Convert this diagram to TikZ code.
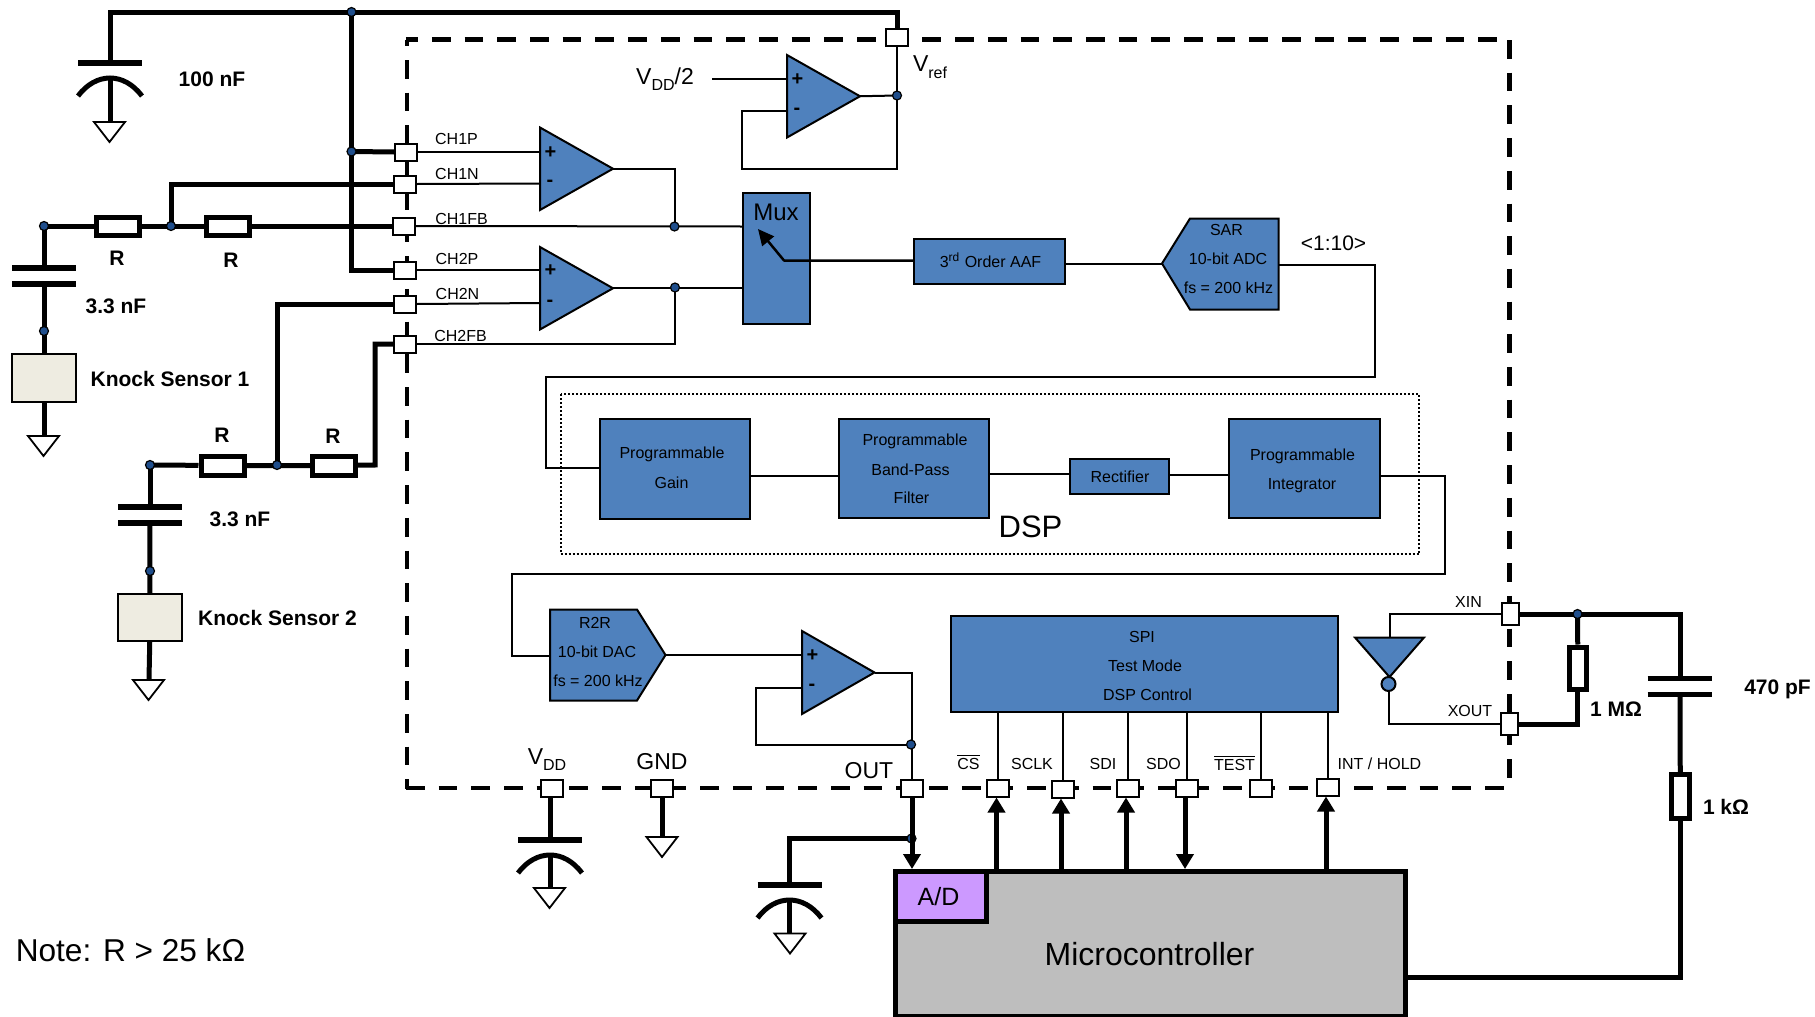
\documentclass[tikz,border=0pt]{standalone}
\usepackage{fontspec}
\setmainfont{Liberation Sans}
\usetikzlibrary{arrows.meta,backgrounds}
\definecolor{bluefill}{HTML}{4F81BD}
\definecolor{dotfill}{HTML}{1F4E8C}
\definecolor{sensorfill}{HTML}{EEECE1}
\definecolor{mcufill}{HTML}{BEBEBE}
\definecolor{adfill}{HTML}{CC99FF}
\tikzset{
  wire/.style={line width=1pt,line join=miter},
  fatwire/.style={line width=2.5pt,line join=miter},
  headwire/.style={line width=2.5pt,-{Triangle[length=7.5pt,width=8.5pt]}},
  plate/.style={line width=2.75pt},
  arcplate/.style={line width=2.5pt},
  gndtri/.style={line width=0.9pt,fill=white,line join=miter},
  bluebox/.style={draw,line width=1pt,fill=bluefill,inner sep=0pt},
  bluepoly/.style={draw,line width=1pt,fill=bluefill,line join=miter},
  resbox/.style={draw,line width=2.5pt,fill=white,inner sep=0pt},
  sensorbox/.style={draw,line width=1pt,fill=sensorfill,inner sep=0pt},
  mcubox/.style={draw,line width=2.5pt,fill=mcufill,inner sep=0pt},
  adbox/.style={draw,line width=2.5pt,fill=adfill,inner sep=0pt},
  pinbox/.style={draw,line width=1pt,fill=white,inner sep=0pt,minimum width=11pt,minimum height=8.5pt},
  pinvbox/.style={draw,line width=1pt,fill=white,inner sep=0pt,minimum width=8.5pt,minimum height=11pt},
  jdot/.style={circle,draw,line width=0.6pt,fill=dotfill,inner sep=0pt,minimum size=4.5pt},
  pkgline/.style={line width=2.25pt,dash pattern=on 9.35pt off 7pt},
  small/.style={inner sep=0pt,font=\fontsize{8}{9}\selectfont},
  mid/.style={inner sep=0pt,font=\fontsize{11.5}{13}\selectfont},
  bold/.style={inner sep=0pt,font=\fontsize{10.5}{12}\bfseries\selectfont},
  oasign/.style={inner sep=0pt,font=\fontsize{10}{11}\bfseries\selectfont},
}
\newcommand{\rectnode}[6]{%
  \pgfmathsetmacro{\rcx}{(#3+#5)/2}\pgfmathsetmacro{\rcy}{(#4+#6)/2}%
  \pgfmathsetmacro{\rw}{(#5-#3)*0.5}\pgfmathsetmacro{\rh}{(#6-#4)*0.5}%
  \node[#1,minimum width=\rw pt,minimum height=\rh pt] (#2) at (\rcx,\rcy) {};}
% opamp: name, left x, top y, bottom y, apex x, plus y, minus y
\newcommand{\opamp}[7]{%
  \pgfmathsetmacro{\oy}{(#3+#4)/2}%
  \draw[bluepoly] (#2,#3) -- (#5,\oy) -- (#2,#4) -- cycle;
  \coordinate (#1out) at (#5,\oy);
  \coordinate (#1p) at (#2,#6);
  \coordinate (#1m) at (#2,#7);
  \node[oasign] (#1plus) at (#2+10.5,#6+1) {+};
  \node[oasign] (#1minus) at (#2+10,#7) {-};}
% polarised capacitor: x, plate y
\newcommand{\polcap}[2]{%
  \draw[plate] (#1-32,#2) -- (#1+32,#2);
  \draw[arcplate] (#1-32,#2+33) .. controls (#1-14,#2+9) and (#1+14,#2+9) .. (#1+32,#2+33);}
\newcommand{\gndsym}[2]{%
  \draw[gndtri] (#1-15.5,#2) -- (#1+15.5,#2) -- (#1,#2+20) -- cycle;}
\newcommand{\sub}[1]{\raisebox{-0.28em}{\fontsize{8}{9}\selectfont #1}}
\begin{document}
\begin{tikzpicture}[x=0.5pt,y=-0.5pt]
\useasboundingbox (0,0) rectangle (1815,1017);

% ---------- pins
\node[pinbox] (pVref) at (897,37.5) {};
\node[pinbox] (pCHoneP) at (406,152) {};
\node[pinbox] (pCHoneN) at (405,184) {};
\node[pinbox] (pCHoneFB) at (404,226) {};
\node[pinbox] (pCHtwoP) at (405,270) {};
\node[pinbox] (pCHtwoN) at (405,304) {};
\node[pinbox] (pCHtwoFB) at (405,344) {};
\node[pinbox] (pVDD) at (552,788) {};
\node[pinbox] (pGND) at (662,788) {};
\node[pinbox] (pOUT) at (912,788) {};
\node[pinbox] (pCS) at (998,788) {};
\node[pinbox] (pSCLK) at (1063,789) {};
\node[pinbox] (pSDI) at (1127.5,788) {};
\node[pinbox] (pSDO) at (1186.5,788) {};
\node[pinbox] (pTEST) at (1260.5,788) {};
\node[pinbox] (pINT) at (1328,787) {};
\node[pinvbox] (pXIN) at (1510,614) {};
\node[pinvbox] (pXOUT) at (1509.5,724) {};

% ---------- blocks
\rectnode{bluebox}{mux}{743}{193}{810}{324}
\rectnode{bluebox}{aaf}{914}{239}{1065}{284}
\rectnode{bluebox}{gain}{600}{419}{750}{519}
\rectnode{bluebox}{bpf}{838.5}{419}{989}{518}
\rectnode{bluebox}{rect}{1070}{459}{1169}{493.5}
\rectnode{bluebox}{integ}{1229}{419}{1380}{518}
\rectnode{bluebox}{spi}{951}{616}{1337.5}{712}
\rectnode{sensorbox}{sensA}{12}{354}{76}{402}
\rectnode{sensorbox}{sensB}{117.5}{594}{182}{641}
\rectnode{resbox}{rA}{96}{217}{139.5}{235}
\rectnode{resbox}{rB}{206.5}{217}{249}{235}
\rectnode{resbox}{rC}{201}{456}{244}{475}
\rectnode{resbox}{rD}{312.5}{456}{355.5}{475}
\rectnode{resbox}{rE}{1569}{647}{1586.5}{689}
\rectnode{resbox}{rF}{1671}{774.5}{1689.5}{818}
\rectnode{mcubox}{mcu}{895}{871.5}{1405.5}{1016}
\rectnode{adbox}{ad}{895}{871.5}{986.5}{921}

% polygons
\draw[bluepoly] (1190,218.5) -- (1278.5,218.5) -- (1278.5,309.5) -- (1190,309.5) -- (1162,263.5) -- cycle;
\coordinate (sarin) at (1162,263.5);
\coordinate (sarout) at (1278.5,265);
\draw[bluepoly] (550,609.5) -- (637,609.5) -- (665.5,655) -- (637,700.5) -- (550,700.5) -- cycle;
\coordinate (dacin) at (550,656);
\coordinate (dacout) at (665.5,655);
\opamp{oaA}{540}{127.5}{210}{613}{152}{183.5}
\opamp{oaB}{540}{247}{329.5}{613}{270}{303}
\opamp{oaC}{787}{55}{137.5}{860}{79}{111}
\opamp{oaD}{802}{631}{714}{874.5}{655}{687.5}
\draw[bluepoly] (1355,637.5) -- (1424,637.5) -- (1389.5,677) -- cycle;
\node[circle,draw,line width=1pt,fill=bluefill,inner sep=0pt,minimum size=7pt] (invb) at (1388.5,684) {};
\coordinate (invtop) at (1390,637.5);

% junctions
\node[jdot] (jtop) at (351.5,12) {};
\node[jdot] (jbus) at (351.5,151.5) {};
\node[jdot] (jn) at (171,226) {};
\node[jdot] (nA) at (44,226) {};
\node[jdot] (nB) at (44,331) {};
\node[jdot] (jm) at (277,465) {};
\node[jdot] (nC) at (150,465) {};
\node[jdot] (nD) at (150,571) {};
\node[jdot] (jfbA) at (674.5,226.5) {};
\node[jdot] (jfbB) at (675,287.5) {};
\node[jdot] (jref) at (897,95.5) {};
\node[jdot] (jout) at (911,744.5) {};
\node[jdot] (jad) at (911.5,838.5) {};
\node[jdot] (jxin) at (1577.5,614) {};

% free-end coordinates
\coordinate (muxwiper) at (784,260.5);
\coordinate (muxtip) at (758,229);
\coordinate (capA) at (110,63);
\coordinate (capAb) at (110,78);
\coordinate (capB) at (44,268);
\coordinate (capBb) at (44,284);
\coordinate (capC) at (150,507);
\coordinate (capCb) at (150,523);
\coordinate (capV) at (550,840);
\coordinate (capVb) at (550,855);
\coordinate (capO) at (789.5,885);
\coordinate (capOb) at (789.5,900);
\coordinate (capX) at (1680,678.5);
\coordinate (capXb) at (1680,694.5);

% symbols
\polcap{110}{63}
\gndsym{109.5}{122}
\draw[plate] (12,268) -- (76,268); \draw[plate] (12,284) -- (76,284);
\gndsym{43.5}{436}
\draw[plate] (118,507) -- (182,507); \draw[plate] (118,523) -- (182,523);
\gndsym{148.5}{680}
\polcap{550}{840}
\gndsym{549.5}{888}
\gndsym{662}{837}
\polcap{789.5}{885}
\gndsym{790}{933.5}
\draw[plate] (1647.5,678.5) -- (1712,678.5); \draw[plate] (1647.5,694.5) -- (1712,694.5);

% ---------- wires, behind everything
\begin{scope}[on background layer]
  % dashed package outline
  \draw[pkgline,dash phase=3.35pt] (405.9,39.5) -- (1509.5,39.5);
  \draw[pkgline,dash phase=6.1pt] (407,39.5) -- (407,789);
  \draw[pkgline] (405.9,788) -- (1509.5,788);
  \draw[pkgline] (1509.5,40) -- (1509.5,788);
  \draw[line width=1pt,dash pattern=on 1pt off 1pt] (560.5,394) rectangle (1419,554);
  % thick wiring
  \draw[fatwire] (capA) |- (jtop.center) -| (pVref.north);
  \draw[fatwire] (jtop.center) |- (pCHtwoP.west);
  \draw[fatwire] (jbus.center) -- (pCHoneP.west);
  \draw[fatwire] (jn.center) |- (pCHoneN.west);
  \draw[fatwire] (nA.center) -- (rA) -- (rB) -- (pCHoneFB.west);
  \draw[fatwire] (nA.center) -- (capB);
  \draw[fatwire] (capBb) -- (sensA.north);
  \draw[fatwire] (sensA.south) -- (44,436);
  \draw[fatwire] (capAb) -- (110,122);
  \draw[fatwire] (jm.center) |- (pCHtwoN.west);
  \draw[fatwire] (nC.center) -- (rC) -- (rD) -- (375,465) |- (pCHtwoFB.west);
  \draw[fatwire] (nC.center) -- (capC);
  \draw[fatwire] (capCb) -- (sensB.north);
  \draw[fatwire] (sensB.south) -- (149,680);
  \draw[fatwire] (capV |- pVDD.south) -- (capV);
  \draw[fatwire] (capVb) -- (550,888);
  \draw[fatwire] (pGND.south) -- (662,837);
  \draw[fatwire] (jad.center) -| (capO);
  \draw[fatwire] (capOb) -- (789.5,933.5);
  \draw[fatwire] (pXIN.east) -- (1680,614) -- (capX);
  \draw[fatwire] (capXb) -- (rF.north);
  \draw[fatwire] (rF.south) |- (mcu.east |- 0,977.5);
  \draw[fatwire] (jxin.center) -- (rE.north);
  \draw[fatwire] (rE.south) |- (pXOUT.east);
  % thin wiring
  \draw[wire] (pCHoneP.east) -- (oaAp);
  \draw[wire] (pCHoneN.east) -- (oaAm);
  \draw[wire] (pCHtwoP.east) -- (oaBp);
  \draw[wire] (pCHtwoN.east) -- (oaBm);
  \draw[wire] (pCHoneFB.east) -- (mux.west |- jfbA);
  \draw[wire] (pCHtwoFB.east) -| (jfbB.center);
  \draw[wire] (oaAout) -| (jfbA.center);
  \draw[wire] (oaBout) -- (mux.west |- oaBout);
  \draw[wire] (712,79) -- (oaCp);
  \draw[wire] (oaCm) -- (741.5,111) -- (741.5,168.5) -| (pVref.south);
  \draw[wire] (oaCout) -- (jref.center);
  \draw[wire] (aaf.east |- sarin) -- (sarin);
  \draw[wire] (sarout) -- (1375,265) -- (1375,377) -- (546,377) -- (546,467.5) -- (gain.west |- 0,467.5);
  \draw[wire] (gain.east |- 0,476) -- (bpf.west |- 0,476);
  \draw[wire] (bpf.east |- 0,474) -- (rect.west |- 0,474);
  \draw[wire] (rect.east |- 0,474.5) -- (integ.west |- 0,474.5);
  \draw[wire] (integ.east |- 0,475.5) -- (1445,475.5) -- (1445,573.5) -- (512,573.5) -- (512,656) -- (dacin);
  \draw[wire] (dacout) -- (oaDp);
  \draw[wire] (oaDout) -| (pOUT.north);
  \draw[wire] (oaDm) -- (755.5,687.5) |- (jout.center);
  \draw[wire] (spi.south -| pCS) -- (pCS.north);
  \draw[wire] (spi.south -| pSCLK) -- (pSCLK.north);
  \draw[wire] (spi.south -| pSDI) -- (pSDI.north);
  \draw[wire] (spi.south -| pSDO) -- (pSDO.north);
  \draw[wire] (spi.south -| pTEST) -- (pTEST.north);
  \draw[wire] (spi.south -| pINT) -- (pINT.north);
  \draw[wire] (pXIN.west) -| (invtop);
  \draw[wire] (invb.south) |- (pXOUT.west);
\end{scope}

% mux wiper arrow and bus arrows
\draw[wire,line width=1.25pt,line join=round,-{Triangle[length=8pt,width=7.5pt]}] (aaf.west |- muxwiper) -- (muxwiper) -- (muxtip);
\draw[headwire] (pOUT.south) -- (pOUT.south |- mcu.north);
\draw[headwire] ([xshift=-0.75pt]pCS.south |- mcu.north) -- ([xshift=-0.75pt]pCS.south);
\draw[headwire] ([xshift=-1pt]pSCLK.south |- mcu.north) -- ([xshift=-1pt]pSCLK.south);
\draw[headwire] ([xshift=-0.75pt]pSDI.south |- mcu.north) -- ([xshift=-0.75pt]pSDI.south);
\draw[headwire] ([xshift=-0.75pt]pSDO.south) -- ([xshift=-0.75pt]pSDO.south |- mcu.north);
\draw[headwire] ([xshift=-1pt]pINT.south |- mcu.north) -- ([xshift=-1pt]pINT.south);

% ---------- texts
\node[bold] (tCapA) at (212,79.5) {100 nF};
\node[bold] (tRa) at (117,258) {R};
\node[bold] (tRb) at (231,260) {R};
\node[bold] (tCapB) at (116,306) {3.3 nF};
\node[bold] (tKsA) at (170,378.5) {Knock Sensor 1};
\node[bold] (tRc) at (222,435) {R};
\node[bold] (tRd) at (333,436) {R};
\node[bold] (tCapC) at (240,519) {3.3 nF};
\node[bold] (tKsB) at (277.5,618) {Knock Sensor 2};
\node[bold] (tRe) at (1616,709) {1 MΩ};
\node[bold] (tCapX) at (1777.5,689.5) {470 pF};
\node[bold] (tRf) at (1726,807) {1 kΩ};
\node[inner sep=0pt,font=\fontsize{15.8}{18}\selectfont] (tNote) at (130.5,950.5) {Note: R > 25 kΩ};

\node[small] (tCHoneP) at (456.5,138.5) {CH1P};
\node[small] (tCHoneN) at (457,173.5) {CH1N};
\node[small] (tCHoneFB) at (461.5,218.5) {CH1FB};
\node[small] (tCHtwoP) at (457,258.5) {CH2P};
\node[small] (tCHtwoN) at (457.5,293.5) {CH2N};
\node[small] (tCHtwoFB) at (460.5,335.5) {CH2FB};

\node[mid] (tVddh) at (665,79) {V\sub{DD}/2};
\node[mid] (tVref) at (930,67) {V\sub{ref}};
\node[inner sep=0pt,font=\fontsize{12}{14}\selectfont] (tMux) at (776,212) {Mux};
\node[small] (tAAF) at (990.5,260.5) {3\textsuperscript{rd} Order AAF};
\node[small] (tSARa) at (1226.5,229.5) {SAR};
\node[small] (tSARb) at (1228,258.5) {10-bit ADC};
\node[small] (tSARc) at (1228.5,287.5) {fs = 200 kHz};
\node[inner sep=0pt,font=\fontsize{10.5}{12}\selectfont] (tDec) at (1333.5,243) {<1:10>};

\node[small] (tGainA) at (672,454) {Programmable};
\node[small] (tGainB) at (671.5,483) {Gain};
\node[small] (tBpfA) at (915,441) {Programmable};
\node[small] (tBpfB) at (910.5,469.5) {Band-Pass};
\node[small] (tBpfC) at (911.5,498) {Filter};
\node[small] (tRect) at (1120,477) {Rectifier};
\node[small] (tIntA) at (1302.5,456) {Programmable};
\node[small] (tIntB) at (1302,485.5) {Integrator};
\node[inner sep=0pt,font=\fontsize{15.5}{18}\selectfont] (tDSP) at (1030.5,527) {DSP};

\node[small] (tDACa) at (595,622.5) {R2R};
\node[small] (tDACb) at (597,652) {10-bit DAC};
\node[small] (tDACc) at (598,681) {fs = 200 kHz};
\node[small] (tSPIa) at (1142,637) {SPI};
\node[small] (tSPIb) at (1145,666) {Test Mode};
\node[small] (tSPIc) at (1147.5,694.5) {DSP Control};

\node[mid] (tVDD) at (547,759.5) {V\sub{DD}};
\node[mid] (tGND) at (662,762) {GND};
\node[mid] (tOUT) at (869,771) {OUT};
\node[small] (tCS) at (968.5,762) {$\overline{\mbox{CS}}$};
\node[small] (tSCLK) at (1032,763.5) {SCLK};
\node[small] (tSDI) at (1103,763.5) {SDI};
\node[small] (tSDO) at (1163.5,763.5) {SDO};
\node[small] (tTEST) at (1234.5,763) {$\overline{\mbox{TEST}}$};
\node[small] (tINT) at (1379.5,763.5) {INT / HOLD};
\node[small] (tXIN) at (1468.5,601.5) {XIN};
\node[small] (tXOUT) at (1470,710.5) {XOUT};

\node[inner sep=0pt,font=\fontsize{12.5}{14}\selectfont] (tAD) at (938.5,897) {A/D};
\node[inner sep=0pt,font=\fontsize{16}{18}\selectfont] (tMCU) at (1149.5,954.5) {Microcontroller};
\end{tikzpicture}
\end{document}
